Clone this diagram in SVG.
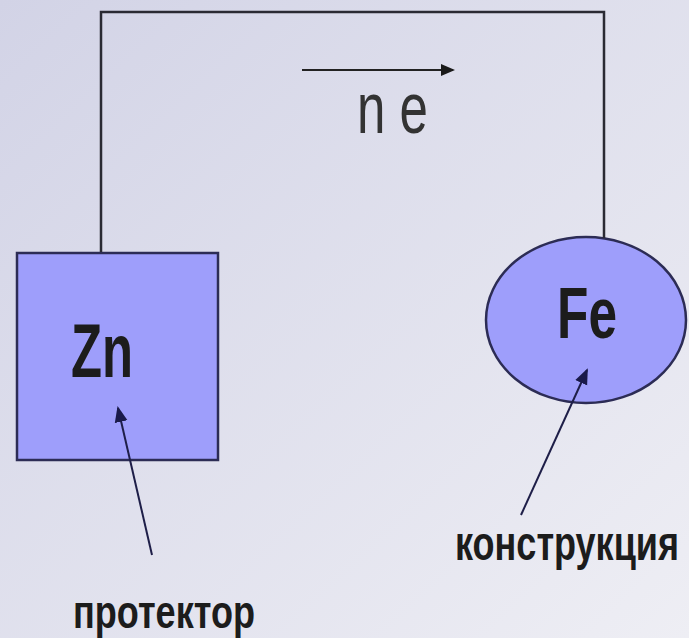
<svg xmlns="http://www.w3.org/2000/svg" width="689" height="638" viewBox="0 0 689 638">
<defs>
<linearGradient id="bg" x1="0" y1="0" x2="1" y2="1">
<stop offset="0" stop-color="#d2d3e6"/>
<stop offset="1" stop-color="#eeeef4"/>
</linearGradient>
<marker id="ah" markerWidth="16" markerHeight="16" refX="14" refY="8" orient="auto" markerUnits="userSpaceOnUse" viewBox="0 0 16 16">
<path d="M0,1.5 L16,8 L0,14.5 z" fill="#1a1a4a"/>
</marker>
<marker id="ah2" markerWidth="14" markerHeight="14" refX="12" refY="7" orient="auto" markerUnits="userSpaceOnUse" viewBox="0 0 14 14">
<path d="M0,1 L14,7 L0,13 z" fill="#1a1a1a"/>
</marker>
</defs>
<style>
.lbl{font-family:"Liberation Sans","DejaVu Sans Condensed",sans-serif;font-weight:bold;fill:#1c1c1c}
.node{fill:#9e9efb;stroke:#2c2c55;stroke-width:2.5}
.wire{fill:none;stroke:#2a2a33;stroke-width:2.5}
.ptr{stroke:#1e1e48;stroke-width:2;fill:none;marker-end:url(#ah)}
</style>
<rect width="689" height="638" fill="url(#bg)"/>
<g id="zn">
<rect class="node" x="17" y="253" width="201" height="207"/>
<text class="lbl" x="71" y="377" font-size="76" textLength="62" lengthAdjust="spacingAndGlyphs">Zn</text>
</g>
<g id="fe">
<ellipse class="node" cx="586" cy="320" rx="100" ry="83"/>
<text class="lbl" x="557" y="338" font-size="72" textLength="60" lengthAdjust="spacingAndGlyphs">Fe</text>
</g>
<g id="connectors">
<path class="wire" d="M101,252 V12 H604 V238"/>
<line x1="302" y1="70" x2="453" y2="70" stroke="#222" stroke-width="2.2" marker-end="url(#ah2)"/>
<line class="ptr" x1="152" y1="555" x2="118" y2="408"/>
<line class="ptr" x1="521" y1="515" x2="587" y2="370"/>
</g>
<g id="ne">
<text x="357" y="133" font-family="Liberation Sans, sans-serif" font-size="72" fill="#333" textLength="71" lengthAdjust="spacingAndGlyphs">n e</text>
</g>
<g id="labels">
<g transform="translate(455,560) scale(0.7,1)">
<text class="lbl" x="0" y="0" font-size="48" textLength="320" lengthAdjust="spacingAndGlyphs">конструкция</text>
</g>
<text class="lbl" x="73" y="628" font-size="46" textLength="182" lengthAdjust="spacingAndGlyphs">протектор</text>
</g>
</svg>
